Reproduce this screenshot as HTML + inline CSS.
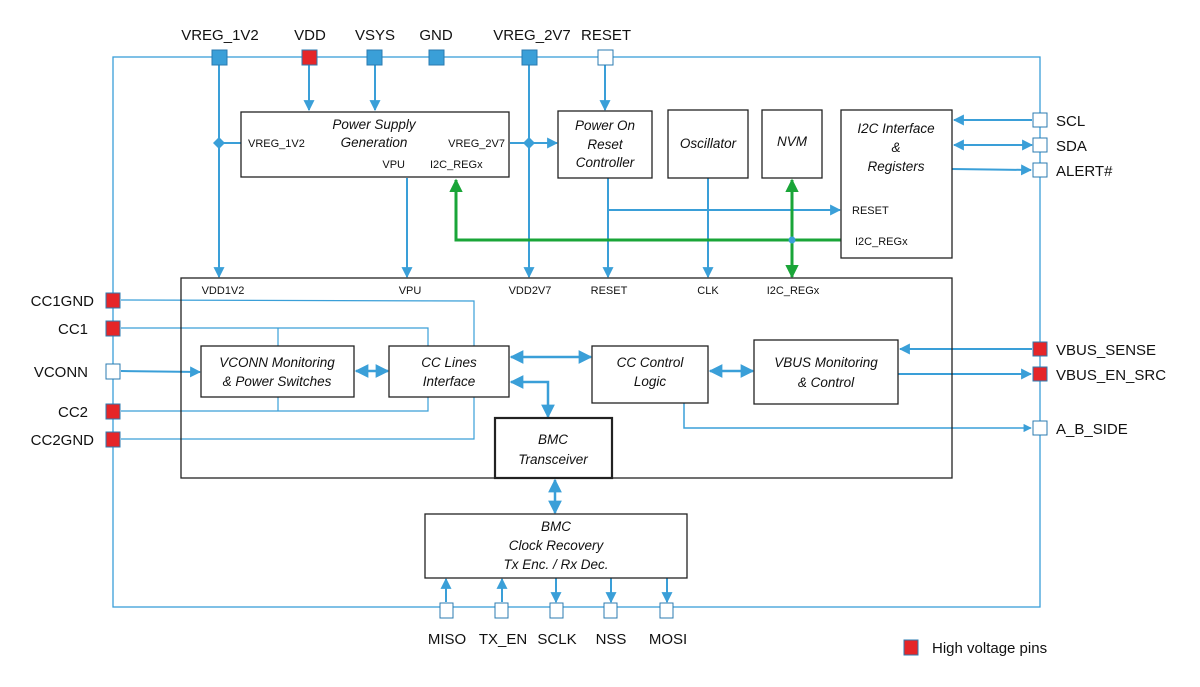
<!DOCTYPE html>
<html><head><meta charset="utf-8"><style>
html,body{margin:0;padding:0;background:#fff;}
svg{display:block;}
text{font-family:"Liberation Sans",sans-serif;fill:#111;}
.pl{font-size:15px;}
.sl{font-size:11px;}
.bx{font-size:13.5px;font-style:italic;}
</style></head><body>
<svg width="1200" height="687" viewBox="0 0 1200 687" xmlns="http://www.w3.org/2000/svg">
<defs>
<marker id="a" viewBox="0 0 10 10" refX="9" refY="5" markerWidth="5.5" markerHeight="5.5" orient="auto-start-reverse" markerUnits="strokeWidth"><path d="M0,0 L10,5 L0,10 z" fill="#3a9fd8"/></marker>
<marker id="g" viewBox="0 0 10 10" refX="9" refY="5" markerWidth="4.5" markerHeight="4.5" orient="auto-start-reverse" markerUnits="strokeWidth"><path d="M0,0 L10,5 L0,10 z" fill="#1aa538"/></marker>
</defs>
<g fill="none" stroke="#3a9fd8">
<rect x="113" y="57" width="927" height="550" stroke-width="1.3"/>
<g stroke-width="2">
<line x1="219" y1="57" x2="219" y2="277" marker-end="url(#a)"/>
<line x1="219" y1="143" x2="241" y2="143"/>
<line x1="309" y1="57" x2="309" y2="110" marker-end="url(#a)"/>
<line x1="375" y1="57" x2="375" y2="110" marker-end="url(#a)"/>
<line x1="529" y1="57" x2="529" y2="277" marker-end="url(#a)"/>
<line x1="510" y1="143" x2="557" y2="143" marker-end="url(#a)"/>
<line x1="605" y1="57" x2="605" y2="110" marker-end="url(#a)"/>
<line x1="407" y1="178" x2="407" y2="277" marker-end="url(#a)"/>
<line x1="608" y1="178" x2="608" y2="277" marker-end="url(#a)"/>
<line x1="608" y1="210" x2="840" y2="210" marker-end="url(#a)"/>
<line x1="708" y1="178" x2="708" y2="277" marker-end="url(#a)"/>
<line x1="1032" y1="120" x2="954" y2="120" marker-end="url(#a)"/>
<line x1="954" y1="145" x2="1032" y2="145" marker-start="url(#a)" marker-end="url(#a)"/>
<line x1="952" y1="169" x2="1031" y2="170" marker-end="url(#a)"/>
<line x1="1032" y1="349" x2="900" y2="349" marker-end="url(#a)"/>
<line x1="898" y1="374" x2="1031" y2="374" marker-end="url(#a)"/>
<line x1="121" y1="371" x2="200" y2="372" marker-end="url(#a)"/>
<line x1="356" y1="371" x2="388" y2="371" marker-start="url(#a)" marker-end="url(#a)" stroke-width="2.5"/>
<line x1="511" y1="357" x2="591" y2="357" marker-start="url(#a)" marker-end="url(#a)" stroke-width="2.5"/>
<line x1="710" y1="371" x2="753" y2="371" marker-start="url(#a)" marker-end="url(#a)" stroke-width="2.5"/>
<polyline points="511,382 548,382 548,417" marker-start="url(#a)" marker-end="url(#a)" stroke-width="2.5"/>
<line x1="555" y1="480" x2="555" y2="513" marker-start="url(#a)" marker-end="url(#a)" stroke-width="2.5"/>
<line x1="446" y1="602" x2="446" y2="579" marker-end="url(#a)"/>
<line x1="502" y1="602" x2="502" y2="579" marker-end="url(#a)"/>
<line x1="556" y1="578" x2="556" y2="602" marker-end="url(#a)"/>
<line x1="611" y1="578" x2="611" y2="602" marker-end="url(#a)"/>
<line x1="667" y1="578" x2="667" y2="602" marker-end="url(#a)"/>
</g>
<polyline points="684,403 684,428 1031,428" stroke-width="1.5" marker-end="url(#a)"/>
<g stroke-width="1.2">
<polyline points="121,300 474,301 474,346"/>
<polyline points="121,439 474,439 474,397"/>
<polyline points="121,328 428,328 428,346"/>
<line x1="278" y1="328" x2="278" y2="346"/>
<polyline points="121,411 428,411 428,397"/>
<line x1="278" y1="411" x2="278" y2="397"/>
</g>
</g>
<path d="M219,137 L225,143 L219,149 L213,143z" fill="#3a9fd8"/>
<path d="M529,137 L535,143 L529,149 L523,143z" fill="#3a9fd8"/>
<g fill="none" stroke="#1aa538" stroke-width="3">
<polyline points="841,240 456,240 456,180" marker-end="url(#g)"/>
<line x1="792" y1="180" x2="792" y2="277" marker-start="url(#g)" marker-end="url(#g)"/>
</g>
<circle cx="792" cy="240" r="3.5" fill="#3a9fd8"/>
<g fill="#fff" stroke="#222" stroke-width="1.3">
<rect x="241" y="112" width="268" height="65"/>
<rect x="558" y="111" width="94" height="67"/>
<rect x="668" y="110" width="80" height="68"/>
<rect x="762" y="110" width="60" height="68"/>
<rect x="841" y="110" width="111" height="148"/>
<rect x="181" y="278" width="771" height="200" fill="none"/>
<rect x="201" y="346" width="153" height="51"/>
<rect x="389" y="346" width="120" height="51"/>
<rect x="592" y="346" width="116" height="57"/>
<rect x="754" y="340" width="144" height="64"/>
<rect x="495" y="418" width="117" height="60" stroke-width="2.2"/>
<rect x="425" y="514" width="262" height="64"/>
</g>
<g class="bx" text-anchor="middle">
<text x="374" y="129">Power Supply</text><text x="374" y="147">Generation</text>
<text x="605" y="130">Power On</text><text x="605" y="149">Reset</text><text x="605" y="167">Controller</text>
<text x="708" y="148">Oscillator</text>
<text x="792" y="146">NVM</text>
<text x="896" y="133">I2C Interface</text><text x="896" y="152">&amp;</text><text x="896" y="171">Registers</text>
<text x="277" y="367">VCONN Monitoring</text><text x="277" y="386">&amp; Power Switches</text>
<text x="449" y="367">CC Lines</text><text x="449" y="386">Interface</text>
<text x="650" y="367">CC Control</text><text x="650" y="386">Logic</text>
<text x="826" y="367">VBUS Monitoring</text><text x="826" y="387">&amp; Control</text>
<text x="553" y="444">BMC</text><text x="553" y="464">Transceiver</text>
<text x="556" y="531">BMC</text><text x="556" y="550">Clock Recovery</text><text x="556" y="569">Tx Enc. / Rx Dec.</text>
</g>
<g class="sl">
<text x="248" y="147">VREG_1V2</text>
<text x="505" y="147" text-anchor="end">VREG_2V7</text>
<text x="405" y="168" text-anchor="end">VPU</text>
<text x="430" y="168">I2C_REGx</text>
<text x="852" y="214">RESET</text>
<text x="855" y="245">I2C_REGx</text>
<g text-anchor="middle">
<text x="223" y="294">VDD1V2</text><text x="410" y="294">VPU</text><text x="530" y="294">VDD2V7</text>
<text x="609" y="294">RESET</text><text x="708" y="294">CLK</text><text x="793" y="294">I2C_REGx</text>
</g>
</g>
<g stroke="#2b7bb0" stroke-width="1">
<rect x="212" y="50" width="15" height="15" fill="#3a9fd8"/>
<rect x="302" y="50" width="15" height="15" fill="#e52528"/>
<rect x="367" y="50" width="15" height="15" fill="#3a9fd8"/>
<rect x="429" y="50" width="15" height="15" fill="#3a9fd8"/>
<rect x="522" y="50" width="15" height="15" fill="#3a9fd8"/>
<rect x="598" y="50" width="15" height="15" fill="#fff"/>
<rect x="1033" y="113" width="14" height="14" fill="#fff"/>
<rect x="1033" y="138" width="14" height="14" fill="#fff"/>
<rect x="1033" y="163" width="14" height="14" fill="#fff"/>
<rect x="1033" y="342" width="14" height="14" fill="#e52528"/>
<rect x="1033" y="367" width="14" height="14" fill="#e52528"/>
<rect x="1033" y="421" width="14" height="14" fill="#fff"/>
<rect x="106" y="293" width="14" height="15" fill="#e52528"/>
<rect x="106" y="321" width="14" height="15" fill="#e52528"/>
<rect x="106" y="364" width="14" height="15" fill="#fff"/>
<rect x="106" y="404" width="14" height="15" fill="#e52528"/>
<rect x="106" y="432" width="14" height="15" fill="#e52528"/>
<rect x="440" y="603" width="13" height="15" fill="#fff"/>
<rect x="495" y="603" width="13" height="15" fill="#fff"/>
<rect x="550" y="603" width="13" height="15" fill="#fff"/>
<rect x="604" y="603" width="13" height="15" fill="#fff"/>
<rect x="660" y="603" width="13" height="15" fill="#fff"/>
<rect x="904" y="640" width="14" height="15" fill="#e52528"/>
</g>
<g class="pl">
<g text-anchor="middle">
<text x="220" y="40">VREG_1V2</text><text x="310" y="40">VDD</text><text x="375" y="40">VSYS</text>
<text x="436" y="40">GND</text><text x="532" y="40">VREG_2V7</text><text x="606" y="40">RESET</text>
<text x="447" y="644">MISO</text><text x="503" y="644">TX_EN</text><text x="557" y="644">SCLK</text>
<text x="611" y="644">NSS</text><text x="668" y="644">MOSI</text>
</g>
<text x="1056" y="126">SCL</text><text x="1056" y="151">SDA</text><text x="1056" y="176">ALERT#</text>
<text x="1056" y="355">VBUS_SENSE</text><text x="1056" y="380">VBUS_EN_SRC</text><text x="1056" y="434">A_B_SIDE</text>
<g text-anchor="end">
<text x="94" y="306">CC1GND</text><text x="88" y="334">CC1</text><text x="88" y="377">VCONN</text>
<text x="88" y="417">CC2</text><text x="94" y="445">CC2GND</text>
</g>
<text x="932" y="653">High voltage pins</text>
</g>
</svg>
</body></html>
